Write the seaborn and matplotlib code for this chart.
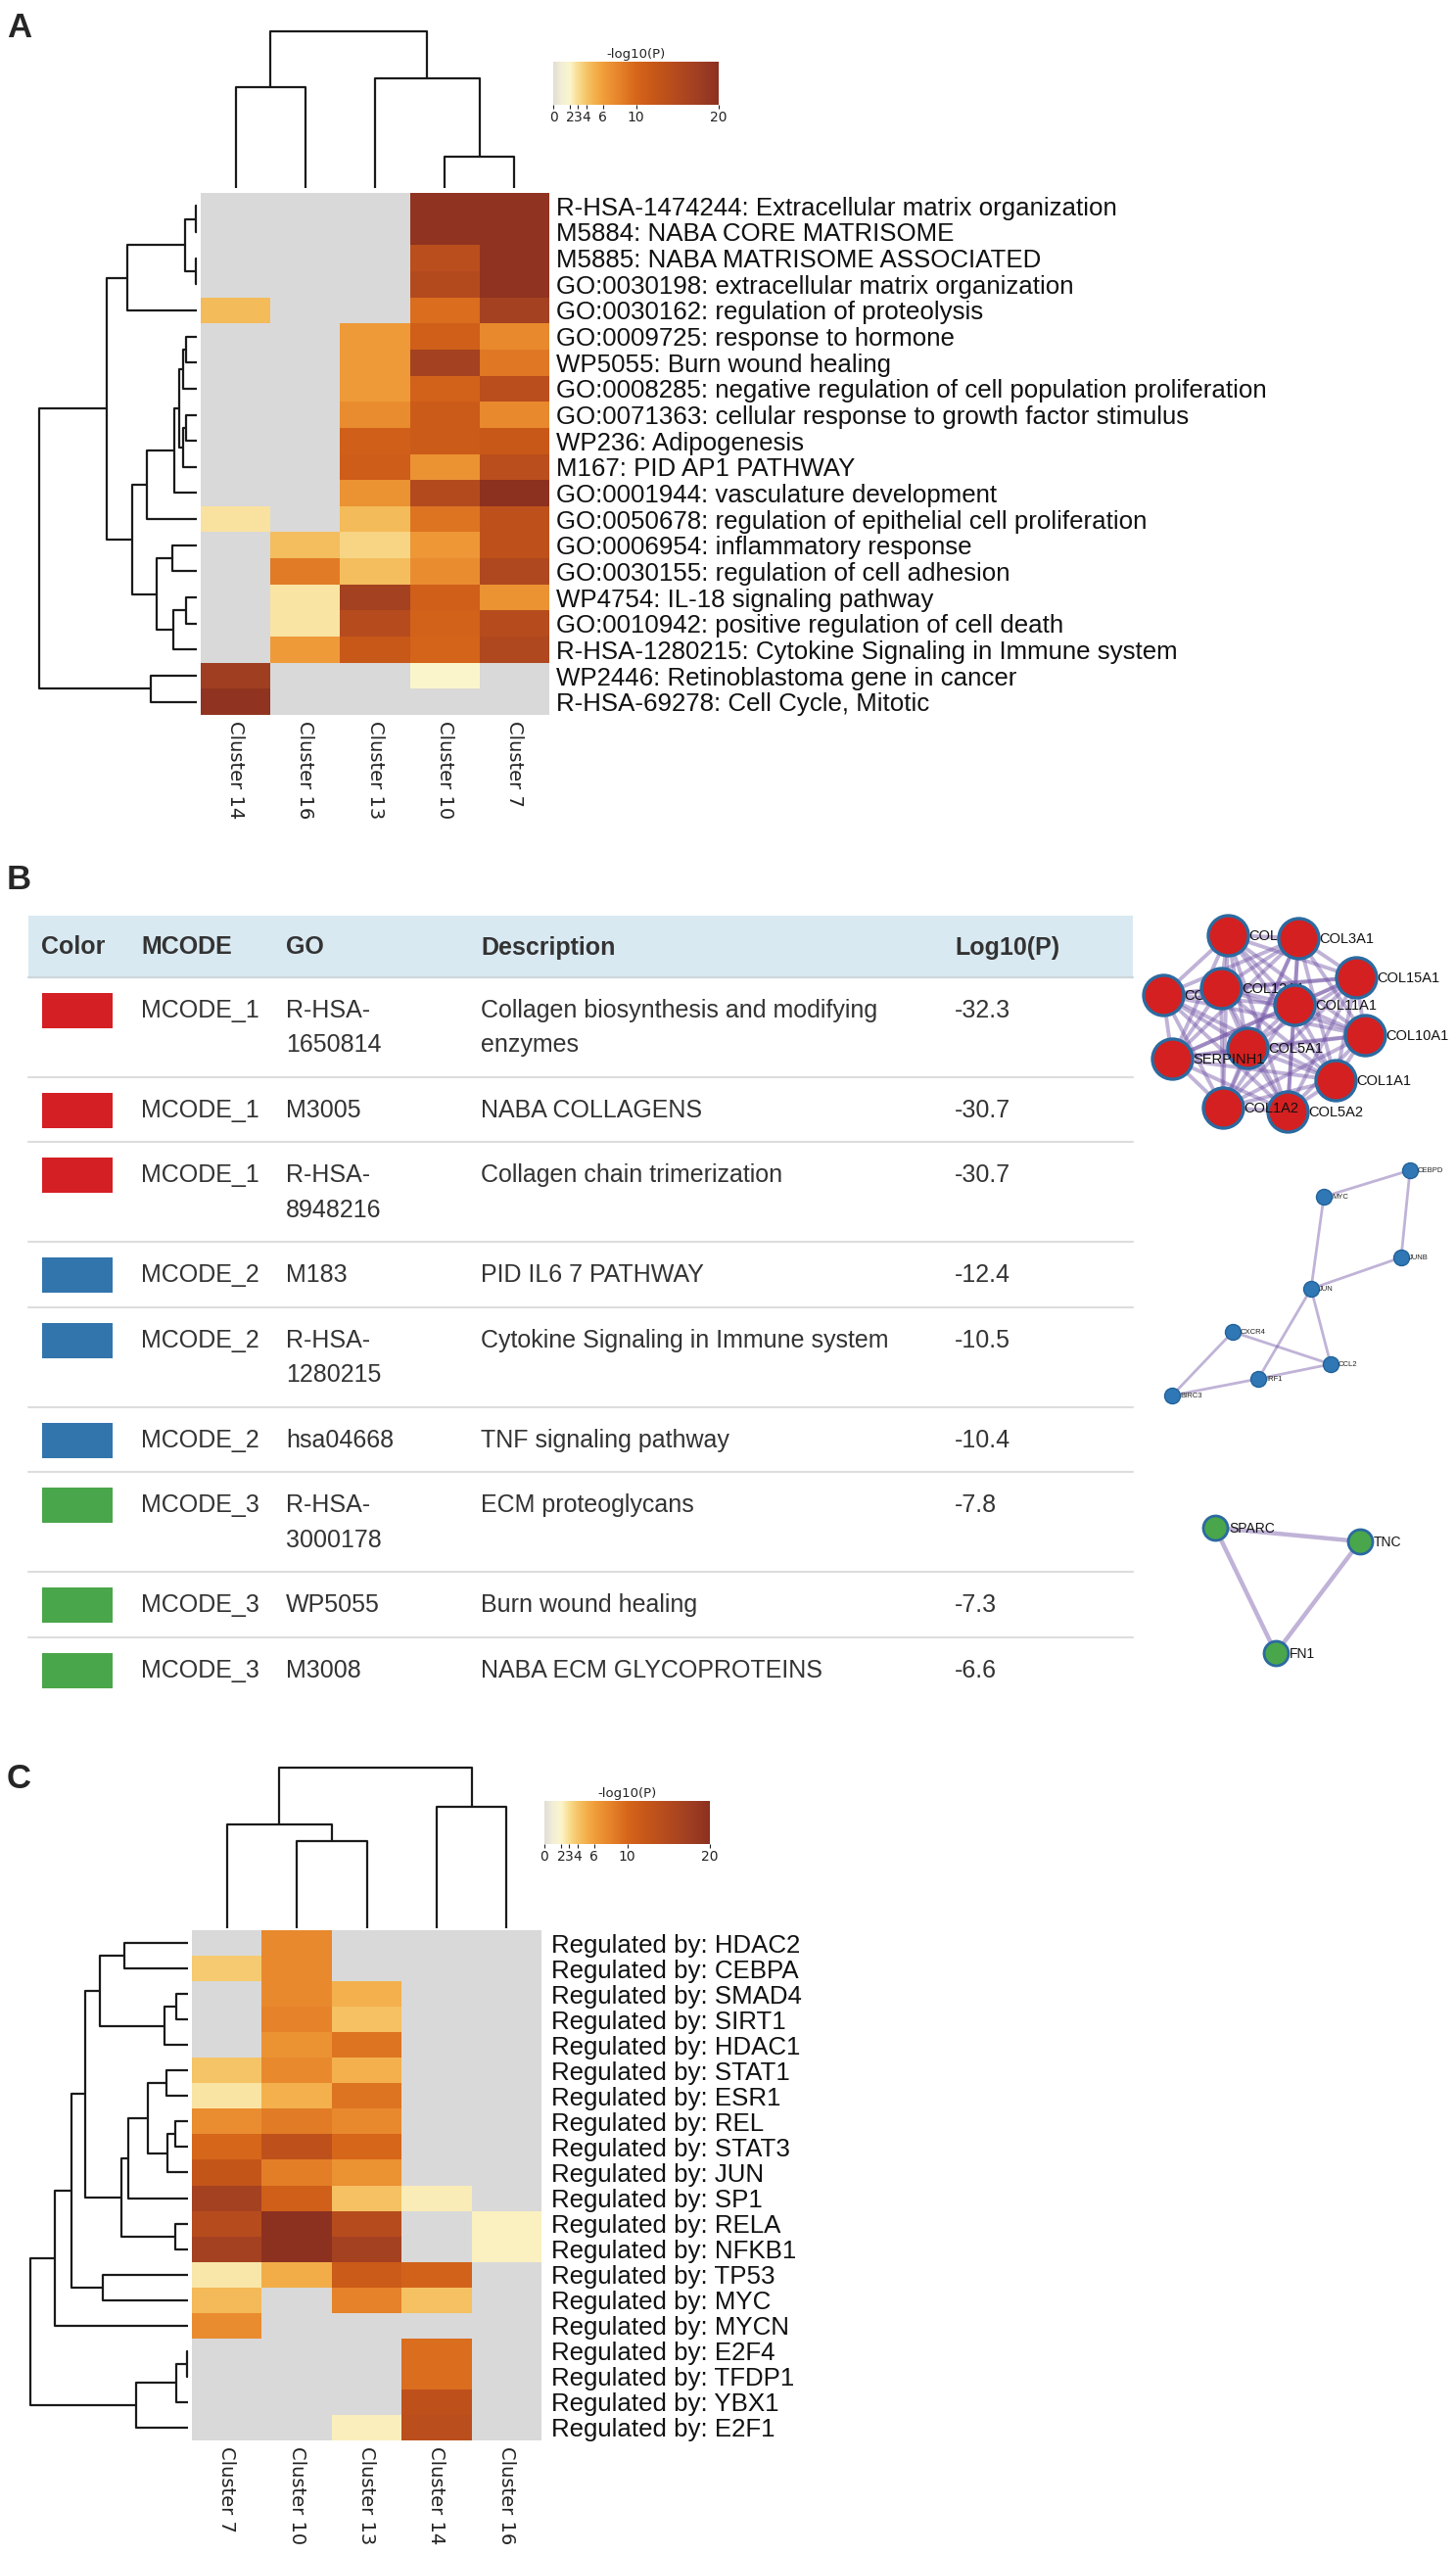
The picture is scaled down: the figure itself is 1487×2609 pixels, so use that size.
import textwrap
from itertools import combinations

import matplotlib
matplotlib.use('Agg')
import matplotlib.pyplot as plt
import numpy as np
import pandas as pd
import seaborn as sns
from matplotlib.colors import LinearSegmentedColormap
from matplotlib.patches import Rectangle

sns.set_theme(style='white')
plt.rcParams['font.family'] = ['DejaVu Sans']

nan = np.nan
W, H = 1487, 2609

# ==============================================
# Panel A data: enrichment heatmap (-log10 P)
# ==============================================
clusters_a = ['Cluster 14', 'Cluster 16', 'Cluster 13', 'Cluster 10', 'Cluster 7']
terms_a = [
    'R-HSA-1474244: Extracellular matrix organization',
    'M5884: NABA CORE MATRISOME',
    'M5885: NABA MATRISOME ASSOCIATED',
    'GO:0030198: extracellular matrix organization',
    'GO:0030162: regulation of proteolysis',
    'GO:0009725: response to hormone',
    'WP5055: Burn wound healing',
    'GO:0008285: negative regulation of cell population proliferation',
    'GO:0071363: cellular response to growth factor stimulus',
    'WP236: Adipogenesis',
    'M167: PID AP1 PATHWAY',
    'GO:0001944: vasculature development',
    'GO:0050678: regulation of epithelial cell proliferation',
    'GO:0006954: inflammatory response',
    'GO:0030155: regulation of cell adhesion',
    'WP4754: IL-18 signaling pathway',
    'GO:0010942: positive regulation of cell death',
    'R-HSA-1280215: Cytokine Signaling in Immune system',
    'WP2446: Retinoblastoma gene in cancer',
    'R-HSA-69278: Cell Cycle, Mitotic',
]
c14_a = [nan, nan, nan, nan, 4.5, nan, nan, nan, nan, nan, nan, nan, 2.8, nan, nan, nan, nan, nan, 17.5, 19.5]
c16_a = [nan, nan, nan, nan, nan, nan, nan, nan, nan, nan, nan, nan, nan, 4.3, 8.5, 2.7, 2.7, 6.3, nan, nan]
c13_a = [nan, nan, nan, nan, nan, 6.3, 6.3, 6.3, 7.3, 11, 11.2, 6.8, 4.5, 3.3, 4.3, 17, 14.5, 12, nan, nan]
c10_a = [19.5, 19.5, 14, 15, 9.5, 11, 17, 10.5, 11.5, 11.5, 6.8, 15, 9, 6.5, 7.3, 11, 10.5, 10.3, 2, nan]
c7_a = [19.5, 19.5, 19.5, 19.5, 17, 7.5, 8.8, 14, 7.5, 12, 14, 20, 13.5, 13.5, 15.5, 6.8, 14.5, 15.5, nan, nan]

# linkage rows: (child a, child b, height); new node ids start at n_leaves
row_links_a = [(0, 1, 1), (2, 3, 1), (20, 21, 12), (22, 4, 71), (5, 6, 11), (24, 7, 14),
               (8, 9, 11), (26, 10, 14), (25, 27, 18), (28, 11, 23), (29, 12, 51),
               (13, 14, 25), (15, 16, 11), (32, 17, 24), (31, 33, 41), (30, 34, 66),
               (23, 35, 92), (18, 19, 47), (36, 37, 161)]
col_links_a = [(0, 1, 0.641), (3, 4, 0.197), (2, 6, 0.70), (5, 7, 1.0)]

# ==============================================
# Panel B data: MCODE table and networks
# ==============================================
mcode = ['MCODE_1', 'MCODE_1', 'MCODE_1', 'MCODE_2', 'MCODE_2', 'MCODE_2', 'MCODE_3', 'MCODE_3', 'MCODE_3']
go_ids = ['R-HSA-1650814', 'M3005', 'R-HSA-8948216', 'M183', 'R-HSA-1280215', 'hsa04668',
          'R-HSA-3000178', 'WP5055', 'M3008']
descriptions = ['Collagen biosynthesis and modifying enzymes', 'NABA COLLAGENS',
                'Collagen chain trimerization', 'PID IL6 7 PATHWAY',
                'Cytokine Signaling in Immune system', 'TNF signaling pathway',
                'ECM proteoglycans', 'Burn wound healing', 'NABA ECM GLYCOPROTEINS']
log_p = [-32.3, -30.7, -30.7, -12.4, -10.5, -10.4, -7.8, -7.3, -6.6]
mcode_colors = {'MCODE_1': '#d41f24', 'MCODE_2': '#3275ad', 'MCODE_3': '#4aa64a'}

# network layouts (pixel positions in the figure), drawn in listed order
red_genes = ['COL6A3', 'COL4A1', 'COL5A1', 'SERPINH1', 'COL12A1', 'COL11A1', 'COL3A1',
             'COL15A1', 'COL10A1', 'COL1A1', 'COL5A2', 'COL1A2']
red_x = [1254, 1188, 1274, 1197, 1247, 1322, 1326, 1385, 1394, 1364, 1315, 1249]
red_y = [955, 1016, 1070, 1081, 1009, 1026, 958, 998, 1057, 1103, 1135, 1131]

blue_genes = ['CEBPD', 'MYC', 'JUNB', 'JUN', 'CXCR4', 'CCL2', 'IRF1', 'BIRC3']
blue_x = [1440, 1352, 1431, 1339, 1259, 1359, 1285, 1197]
blue_y = [1195, 1222, 1284, 1316, 1360, 1393, 1408, 1425]
blue_edges = [('CEBPD', 'MYC'), ('CEBPD', 'JUNB'), ('MYC', 'JUN'), ('JUNB', 'JUN'),
              ('JUN', 'IRF1'), ('JUN', 'CCL2'), ('CXCR4', 'CCL2'), ('CXCR4', 'BIRC3'),
              ('BIRC3', 'IRF1'), ('IRF1', 'CCL2')]

green_genes = ['SPARC', 'TNC', 'FN1']
green_x = [1241, 1389, 1303]
green_y = [1560, 1574, 1688]

# ==============================================
# Panel C data: transcription factor heatmap
# ==============================================
clusters_c = ['Cluster 7', 'Cluster 10', 'Cluster 13', 'Cluster 14', 'Cluster 16']
tfs_c = ['HDAC2', 'CEBPA', 'SMAD4', 'SIRT1', 'HDAC1', 'STAT1', 'ESR1', 'REL', 'STAT3', 'JUN',
         'SP1', 'RELA', 'NFKB1', 'TP53', 'MYC', 'MYCN', 'E2F4', 'TFDP1', 'YBX1', 'E2F1']
c7_c = [nan, 3.8, nan, nan, nan, 4.0, 2.7, 7.2, 10, 12.5, 17, 14.5, 17, 2.6, 4.6, 7.3, nan, nan, nan, nan]
c10_c = [7.5, 7.5, 7.5, 8, 6.8, 7.5, 5, 8.5, 13.5, 8.3, 11, 20, 20, 5.2, nan, nan, nan, nan, nan, nan]
c13_c = [nan, nan, 5, 4.2, 9, 5, 9, 7.5, 10, 6.8, 4.2, 14.5, 17, 11.5, 8, nan, nan, nan, nan, 2.3]
c14_c = [nan, nan, nan, nan, nan, nan, nan, nan, nan, nan, 2.4, nan, nan, 10.5, 4.2, nan, 9.5, 9.5, 13.5, 14]
c16_c = [nan, nan, nan, nan, nan, nan, nan, nan, nan, nan, nan, 2.2, 2.2, nan, nan, nan, nan, nan, nan, nan]

row_links_c = [(0, 1, 65), (2, 3, 11.6), (21, 4, 23.6), (20, 22, 90), (5, 6, 22.5), (7, 8, 12.7),
               (25, 9, 20.7), (24, 26, 40.7), (27, 10, 61.5), (11, 12, 12.7), (28, 29, 68),
               (23, 30, 105), (13, 14, 87), (31, 32, 119), (33, 15, 136), (16, 17, 1),
               (35, 18, 12.4), (36, 19, 53.5), (34, 37, 161)]
col_links_c = [(1, 2, 0.54), (0, 5, 0.645), (3, 4, 0.755), (6, 7, 1.0)]

cbar_ticks = [0, 2, 3, 4, 6, 10, 20]

# colour scale of -log10(P)
cmap = LinearSegmentedColormap.from_list('metascape', [
    (0.00, '#e0ded6'), (0.05, '#f2eed6'), (0.10, '#fbf5cc'), (0.15, '#f8dc90'),
    (0.20, '#f5c466'), (0.25, '#f3b04c'), (0.30, '#f09e3a'), (0.40, '#e5822a'),
    (0.50, '#d6661a'), (0.60, '#c85818'), (0.75, '#b34a1e'), (0.90, '#9c3c22'),
    (1.00, '#8c3020')])

fig = plt.figure(figsize=(W / 100, H / 100), dpi=100)
fig.patch.set_facecolor('white')


def px_axes(x0, y0, x1, y1):
    return fig.add_axes([x0 / W, 1 - y1 / H, (x1 - x0) / W, (y1 - y0) / H])


def draw_dendro(ax, links, n, orient):
    pos = {i: i + 0.5 for i in range(n)}
    hgt = {i: 0.0 for i in range(n)}
    for k, (a, b, h) in enumerate(links):
        pa, pb, ha_, hb_ = pos[a], pos[b], hgt[a], hgt[b]
        if orient == 'left':
            ax.plot([ha_, h, h, hb_], [pa, pa, pb, pb], color='#1a1a1a', lw=1.6,
                    solid_capstyle='butt', clip_on=False)
        else:
            ax.plot([pa, pa, pb, pb], [ha_, h, h, hb_], color='#1a1a1a', lw=1.6,
                    solid_capstyle='butt', clip_on=False)
        pos[n + k] = (pa + pb) / 2
        hgt[n + k] = h
    hmax = max(l[2] for l in links)
    if orient == 'left':
        ax.set_xlim(hmax, 0)
        ax.set_ylim(n, 0)
    else:
        ax.set_xlim(0, n)
        ax.set_ylim(0, hmax)
    ax.axis('off')


def cluster_heatmap(df, box, cbox, row_links, col_links, rbox, cdbox, label_pad):
    ax = px_axes(*box)
    cax = px_axes(*cbox)
    sns.heatmap(df, ax=ax, cmap=cmap, vmin=0, vmax=20, cbar_ax=cax,
                cbar_kws={'orientation': 'horizontal', 'ticks': cbar_ticks})
    ax.set_facecolor('#d9d9d9')
    ax.yaxis.tick_right()
    ax.set_yticklabels(df.index, rotation=0, fontsize=18.6, family='Liberation Sans', color='#111111')
    ax.set_xticklabels(df.columns, rotation=270, fontsize=14, ha='center', va='top', color='#222222')
    ax.tick_params(axis='y', length=0, pad=label_pad)
    ax.tick_params(axis='x', length=0, pad=4)
    ax.set_xlabel('')
    ax.set_ylabel('')
    cb = ax.collections[0].colorbar
    cb.outline.set_visible(False)
    cax.tick_params(labelsize=10, length=3, width=0.8, pad=1, colors='#222222')
    cax.set_title('-log10(P)', fontsize=9.5, pad=3, color='#222222')
    draw_dendro(px_axes(*rbox), row_links, len(df.index), 'left')
    draw_dendro(px_axes(*cdbox), col_links, len(df.columns), 'top')


# ==============================================
# Panel A
# ==============================================
df_a = pd.DataFrame(dict(zip(clusters_a, [c14_a, c16_a, c13_a, c10_a, c7_a])), index=terms_a)
cluster_heatmap(df_a, (205, 197, 561, 730), (565, 63, 734, 107), row_links_a, col_links_a,
                (40, 197, 201, 730), (205, 32, 561, 192), 5)

# ==============================================
# Panel C
# ==============================================
df_c = pd.DataFrame(dict(zip(clusters_c, [c7_c, c10_c, c13_c, c14_c, c16_c])),
                    index=['Regulated by: ' + t for t in tfs_c])
cluster_heatmap(df_c, (196, 1971, 553, 2492), (556, 1839, 725, 1883), row_links_c, col_links_c,
                (31, 1971, 192, 2492), (196, 1805, 553, 1969), 7)

# ==============================================
# Panel B: table
# ==============================================
axb = px_axes(0, 870, W, 1780)
axb.set_xlim(0, W)
axb.set_ylim(1780, 870)
axb.axis('off')

tx0, tx1 = 29, 1157
head_top, head_bot = 935, 998
col_x = [42, 144, 292, 491, 975]
txt_kw = dict(fontsize=18, color='#333333', va='center', family='Liberation Sans')
axb.add_patch(Rectangle((tx0, head_top), tx1 - tx0, head_bot - head_top, color='#d9e9f2', lw=0))
axb.plot([tx0, tx1], [head_bot, head_bot], color='#cdd6db', lw=1.6)
for name, x in zip(['Color', 'MCODE', 'GO', 'Description', 'Log10(P)'], col_x):
    axb.text(x, (head_top + head_bot) / 2 + 1, name, fontweight='bold', **txt_kw)

top = head_bot
for i in range(len(mcode)):
    go_lines = go_ids[i].replace('R-HSA-', 'R-HSA-\n').split('\n')
    desc_lines = textwrap.wrap(descriptions[i], 35)
    nlines = max(len(go_lines), len(desc_lines))
    axb.add_patch(Rectangle((43, top + 16), 72, 36, color=mcode_colors[mcode[i]], lw=0))
    axb.text(col_x[1], top + 34, mcode[i], **txt_kw)
    for j, line in enumerate(go_lines):
        axb.text(col_x[2], top + 34 + 35.5 * j, line, **txt_kw)
    for j, line in enumerate(desc_lines):
        axb.text(col_x[3], top + 34 + 35.5 * j, line, **txt_kw)
    axb.text(col_x[4], top + 34, f'{log_p[i]:.1f}', **txt_kw)
    top += 31 + 35.5 * nlines
    if i < len(mcode) - 1:
        axb.plot([tx0, tx1], [top, top], color='#dddddd', lw=1.5)

# ==============================================
# Panel B: MCODE networks
# ==============================================
edge_kw = dict(color='#7457a8', alpha=0.45, solid_capstyle='round', zorder=1)

for a, b in combinations(range(len(red_genes)), 2):
    axb.plot([red_x[a], red_x[b]], [red_y[a], red_y[b]], lw=2.8, **edge_kw)
for k, g in enumerate(red_genes):
    z = 3 + 2 * k
    axb.scatter(red_x[k], red_y[k], s=(41 * 0.72) ** 2, color='#d42020', edgecolor='#2b6aa0',
                linewidth=2.4, zorder=z)
    axb.text(red_x[k] + 21, red_y[k] + 1, g, fontsize=10.5, va='center', family='Liberation Sans',
             color='#111111', zorder=z + 1)

bidx = {g: k for k, g in enumerate(blue_genes)}
for a, b in blue_edges:
    axb.plot([blue_x[bidx[a]], blue_x[bidx[b]]], [blue_y[bidx[a]], blue_y[bidx[b]]], lw=2.0, **edge_kw)
for k, g in enumerate(blue_genes):
    z = 3 + 2 * k
    axb.scatter(blue_x[k], blue_y[k], s=(16 * 0.72) ** 2, color='#2f78b5', edgecolor='#22629a',
                linewidth=1.0, zorder=z)
    axb.text(blue_x[k] + 8, blue_y[k] + 0.5, g, fontsize=5.5, va='center', family='Liberation Sans',
             color='#222222', zorder=z + 1)

for a, b in combinations(range(len(green_genes)), 2):
    axb.plot([green_x[a], green_x[b]], [green_y[a], green_y[b]], lw=3.2, **edge_kw)
for k, g in enumerate(green_genes):
    z = 3 + 2 * k
    axb.scatter(green_x[k], green_y[k], s=(25 * 0.72) ** 2, color='#4aa64a', edgecolor='#2b6aa0',
                linewidth=2.0, zorder=z)
    axb.text(green_x[k] + 14, green_y[k] + 1, g, fontsize=10, va='center', family='Liberation Sans',
             color='#111111', zorder=z + 1)

# panel letters
for letter, y in [('A', 12), ('B', 882), ('C', 1800)]:
    fig.text(7 / W, 1 - y / H, letter, fontsize=25, fontweight='bold', va='top', ha='left',
             family='Liberation Sans')

fig.savefig('out.png', dpi=100, facecolor='white')
